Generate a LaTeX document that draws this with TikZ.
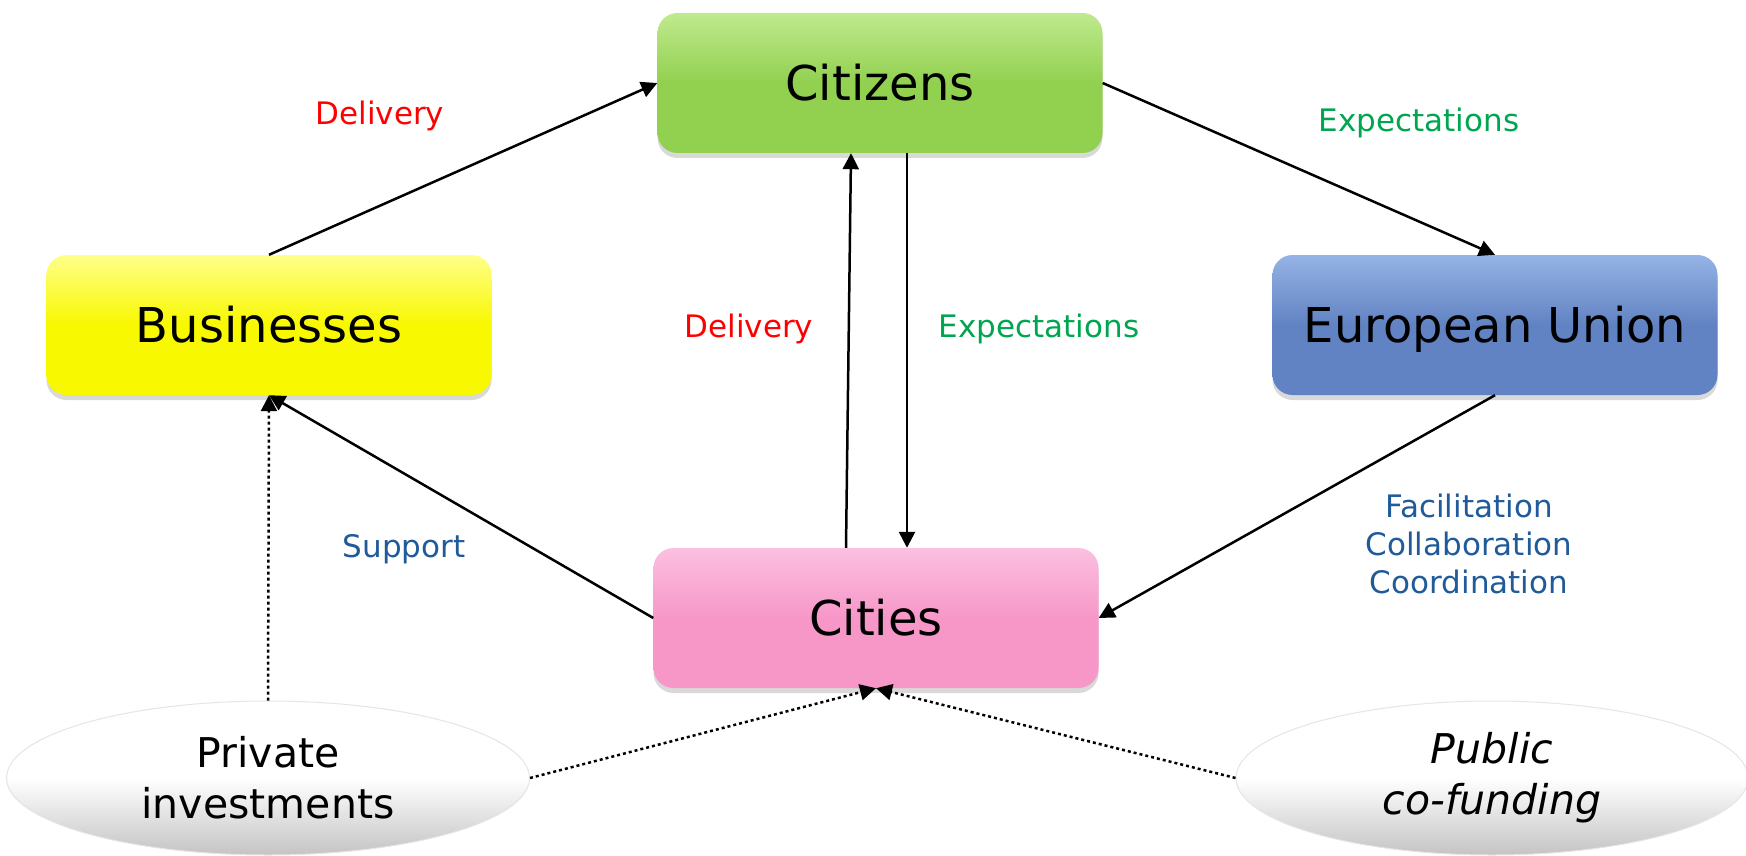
\documentclass[tikz,border=0pt]{standalone}
\usepackage{fontspec}
\setmainfont{DejaVu Sans}
\usetikzlibrary{shapes.geometric,shadows,arrows.meta}

\definecolor{citgreen}{HTML}{92D050}
\definecolor{citlight}{HTML}{BFEA8E}
\definecolor{busyellow}{HTML}{F8F800}
\definecolor{buslight}{HTML}{FFFF8A}
\definecolor{eublue}{HTML}{6183C3}
\definecolor{eulight}{HTML}{95B3E6}
\definecolor{ctypink}{HTML}{F797C8}
\definecolor{ctylight}{HTML}{FBC0E0}
\definecolor{ovalrim}{HTML}{C4C4C4}
\definecolor{lblred}{HTML}{FF0000}
\definecolor{lblgreen}{HTML}{00A550}
\definecolor{lblblue}{HTML}{1F5A9B}

\begin{document}
\begin{tikzpicture}[x=1pt,y=-1pt,
    box/.style={rectangle,rounded corners=20pt,minimum width=445pt,minimum height=140pt,
        text height=35pt,text depth=0pt,font=\fontsize{48}{58}\selectfont,
        drop shadow={shadow xshift=0pt,shadow yshift=-5pt,opacity=0.3}},
    oval/.style={ellipse,minimum width=523pt,minimum height=154pt,inner sep=0pt,align=center,
        font=\fontsize{41}{51}\selectfont,draw=gray!20,line width=1pt,
        top color=white,bottom color=ovalrim,middle color=white},
    lbl/.style={anchor=base,font=\fontsize{31}{38}\selectfont},
    link/.style={line width=2.5pt,-{Triangle[length=16pt,width=16pt]}},
    fund/.style={link,dash pattern=on 3pt off 3pt}]
    \useasboundingbox (0,0) rectangle (1746,856);

    % boxes
    \node[box,top color=citlight,bottom color=citgreen,middle color=citgreen] (cit) at (880,83) {Citizens};
    \node[box,top color=buslight,bottom color=busyellow,middle color=busyellow] (bus) at (269,325) {Businesses};
    \node[box,top color=eulight,bottom color=eublue,middle color=eublue] (eu) at (1495,325) {European Union};
    \node[box,top color=ctylight,bottom color=ctypink,middle color=ctypink] (cty) at (876,618) {Cities};

    % funding
    \node[oval] (priv) at (268,778) {Private\\investments};
    \node[oval,minimum width=512pt] (pub) at (1492,778) {\itshape Public\\\itshape co-funding};

    % labels
    \node[lbl,text=lblred] (dlv1) at (380,125) {Delivery};
    \node[lbl,text=lblgreen] (exp1) at (1419,132) {Expectations};
    \node[lbl,text=lblred] (dlv2) at (749,337) {Delivery};
    \node[lbl,text=lblgreen] (exp2) at (1039,337) {Expectations};
    \node[lbl,text=lblblue] (sup) at (404,557) {Support};
    \node[lbl,text=lblblue,align=center] (fcc) at (1469,593) {Facilitation\\Collaboration\\Coordination};

    \draw[link] (bus.north) -- (cit.west);
    \draw[link] (cit.east) -- (eu.north);
    \draw[link] ([xshift=-30pt]cty.north) -- ([xshift=-29pt]cit.south);
    \draw[link] ([xshift=27pt]cit.south) -- ([xshift=31pt]cty.north);
    \draw[link] (cty.west) -- (bus.south);
    \draw[link] (eu.south) -- (cty.east);
    \draw[fund] (priv.north) -- (bus.south);
    \draw[fund] (priv.east) -- (cty.south);
    \draw[fund] (pub.west) -- (cty.south);
\end{tikzpicture}
\end{document}
